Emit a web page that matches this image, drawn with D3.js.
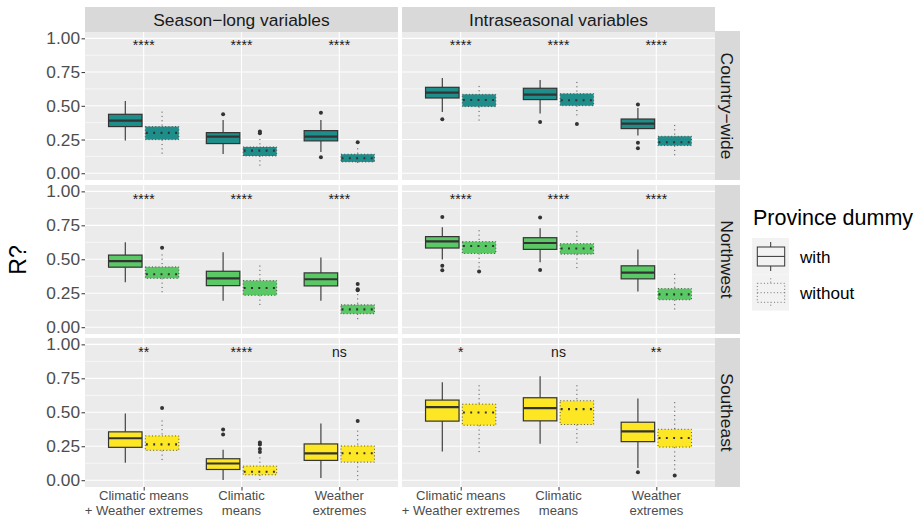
<!DOCTYPE html>
<html><head><meta charset="utf-8">
<script src="https://cdn.jsdelivr.net/npm/d3@7"></script>
<style>html,body{margin:0;background:#fff}svg{display:block}text{font-family:"Liberation Sans",Arial,sans-serif}</style>
</head><body><svg id="c" width="919" height="519"></svg>
<script>
const regions = ["Country\u2212wide","Northwest","Southeast"];
const regionColors = ["#1F8E8A","#5AC864","#FDE725"];
const variableSets = ["Season\u2212long variables","Intraseasonal variables"];
const categories = [["Climatic means","+ Weather extremes"],["Climatic","means"],["Weather","extremes"]];
const groups = ["with","without"];
const yTicks = [0,0.25,0.5,0.75,1];
const yMinor = [0.125,0.375,0.625,0.875];
// order of every list: region > variable set > category > with/without
const whiskerHigh = [
 .536,.457,.395,.254,.395,.185, .706,.647,.691,.677,.484,.358,
 .625,.536,.551,.454,.514,.244, .736,.714,.728,.706,.573,.393,
 .491,.44,.225,.168,.417,.365, .721,.699,.765,.699,.602,.575];
const q3 = [
 .437,.346,.301,.195,.316,.141, .637,.585,.63,.59,.402,.274,
 .531,.444,.412,.343,.40,.165, .667,.63,.659,.615,.452,.284,
 .356,.326,.158,.104,.267,.252, .59,.56,.607,.585,.427,.375];
const median = [
 .39,.299,.272,.168,.272,.111, .598,.543,.583,.541,.368,.23,
 .486,.39,.36,.289,.353,.131, .632,.598,.62,.58,.402,.242,
 .309,.264,.123,.062,.198,.198, .538,.499,.531,.523,.36,.311];
const q1 = [
 .346,.249,.22,.128,.24,.084, .558,.494,.546,.501,.331,.205,
 .442,.36,.306,.235,.304,.099, .583,.543,.573,.538,.356,.202,
 .242,.22,.079,.04,.146,.133, .435,.405,.437,.41,.284,.244];
const whiskerLow = [
 .242,.136,.143,.044,.158,.054, .454,.383,.442,.42,.279,.116,
 .331,.244,.195,.146,.195,.04, .499,.43,.479,.425,.262,.114,
 .128,.131,.002,.002,.017,0, .212,.188,.269,.264,.089,.074];
const outliers = [
 [],[],[.437],[.309,.296],[.449,.119],[.23], [.40],[],[.38],[.365],[.509,.227,.185],[],
 [],[.585],[],[],[],[.319,.28,.272], [.812,.452,.42],[.41],[.807,.422],[],[],[],
 [],[.531],[.373,.336],[.277,.262,.23,.207],[],[.435], [],[],[],[],[.059],[.035]];
const significance = [
 "****","****","****","****","****","****",
 "****","****","****","****","****","****",
 "**","****","ns","*","ns","**"];
const signifY = 0.91;

const svg = d3.select("#c");
const panelX = [[85,398],[402,715]];
const panelY = [[32,180],[185,334],[338,487]];
const boxW = 33.5, dodge = 18.4;
const gridC="#fff", tickTextC="#4D4D4D", tickC="#333333", dark="#333333", stripC="#D9D9D9";

const dodgeX = d3.scalePoint().domain(groups).range([-dodge,dodge]);

function drawBox(g, cx, y, i, fill, gi){
  const dotted = gi===1;
  const line = (x1,x2,y1,y2)=>g.append("line").attr("x1",x1).attr("x2",x2).attr("y1",y1).attr("y2",y2);
  const whiskerStyle = s=>dotted? s.attr("stroke","#555").attr("stroke-width",1).attr("stroke-dasharray","1.1 3.2")
                                 : s.attr("stroke",dark).attr("stroke-width",1.1);
  whiskerStyle(line(cx,cx,y(whiskerHigh[i]),y(q3[i])));
  whiskerStyle(line(cx,cx,y(q1[i]),y(whiskerLow[i])));
  const r = g.append("rect").attr("x",cx-boxW/2).attr("width",boxW)
     .attr("y",y(q3[i])).attr("height",y(q1[i])-y(q3[i])).attr("fill",fill);
  if(dotted) r.attr("stroke","#444").attr("stroke-width",.9).attr("stroke-dasharray","1 2.3");
  else r.attr("stroke",dark).attr("stroke-width",1.2);
  const m = line(cx-boxW/2,cx+boxW/2,y(median[i]),y(median[i])).attr("stroke",dark);
  if(dotted) m.attr("stroke-width",2.1).attr("stroke-dasharray","1.9 5.4").attr("stroke-dashoffset",-.6);
  else m.attr("stroke-width",2.2);
  outliers[i].forEach(v=>g.append("circle").attr("cx",cx).attr("cy",y(v)).attr("r",2).attr("fill",dark));
}

regions.forEach((region,ri)=>{
  const [top,bottom] = panelY[ri];
  const y = d3.scaleLinear().domain([-0.05,1.047]).range([bottom,top]);
  variableSets.forEach((vs,vi)=>{
    const [left,right] = panelX[vi];
    const x = d3.scalePoint().domain(d3.range(categories.length)).range([left,right]).padding(0.6);
    const g = svg.append("g");
    g.append("rect").attr("x",left).attr("y",top).attr("width",right-left).attr("height",bottom-top).attr("fill","#EBEBEB");
    yMinor.forEach(v=>g.append("line").attr("x1",left).attr("x2",right).attr("y1",y(v)).attr("y2",y(v)).attr("stroke",gridC).attr("stroke-width",.6));
    yTicks.forEach(v=>g.append("line").attr("x1",left).attr("x2",right).attr("y1",y(v)).attr("y2",y(v)).attr("stroke",gridC).attr("stroke-width",1.1));
    x.domain().forEach(c=>g.append("line").attr("x1",x(c)).attr("x2",x(c)).attr("y1",top).attr("y2",bottom).attr("stroke",gridC).attr("stroke-width",1.1));

    categories.forEach((cat,ci)=>{
      groups.forEach((gr,gi)=>{
        const i = ri*12 + vi*6 + ci*2 + gi;
        drawBox(g, x(ci)+dodgeX(gr), y, i, regionColors[ri], gi);
      });
      g.append("text").attr("x",x(ci)).attr("y",y(signifY)).attr("text-anchor","middle")
        .attr("font-size",14).attr("fill","#1a1a1a").text(significance[ri*6+vi*3+ci]);
    });

    if(vi===0){
      const ax = svg.append("g").attr("transform",`translate(${left},0)`)
        .call(d3.axisLeft(y).tickValues(yTicks).tickFormat(d3.format(".2f")).tickSize(3.5).tickPadding(1.5));
      ax.select(".domain").remove();
      ax.selectAll(".tick line").attr("stroke",tickC).attr("stroke-width",1);
      ax.selectAll(".tick text").attr("font-size",17.3).attr("fill",tickTextC).attr("font-family","Liberation Sans");
    }
    if(ri===regions.length-1){
      const ax = svg.append("g").attr("transform",`translate(0,${bottom})`)
        .call(d3.axisBottom(x).tickFormat(()=>"").tickSize(3.5));
      ax.select(".domain").remove();
      ax.selectAll(".tick line").attr("stroke",tickC).attr("stroke-width",1);
      ax.selectAll(".tick text").remove();
      categories.forEach((cat,ci)=>cat.forEach((ln,li)=>svg.append("text")
        .attr("x",x(ci)).attr("y",500+li*15).attr("text-anchor","middle")
        .attr("font-size",13.1).attr("fill",tickTextC).text(ln)));
    }
    if(ri===0){
      svg.append("rect").attr("x",left).attr("y",7).attr("width",right-left).attr("height",25).attr("fill",stripC);
      svg.append("text").attr("x",(left+right)/2).attr("y",26).attr("text-anchor","middle")
        .attr("font-size",17.4).attr("fill","#1A1A1A").text(vs);
    }
  });
  // right-hand strip
  svg.append("rect").attr("x",715).attr("y",ri===0?31:top).attr("width",25).attr("height",bottom-(ri===0?31:top)).attr("fill",stripC);
  svg.append("text").attr("transform",`translate(721,${(top+bottom)/2}) rotate(90)`).attr("text-anchor","middle")
    .attr("font-size",17.4).attr("fill","#1A1A1A").text(region);
});

// y title
svg.append("text").attr("transform","translate(25.5,260) rotate(-90)").attr("text-anchor","middle")
  .attr("font-size",23).attr("fill","#000").text("R?");

// legend
svg.append("text").attr("x",753).attr("y",225).attr("font-size",21.5).attr("fill","#000").text("Province dummy");
groups.forEach((gr,gi)=>{
  const top = 238+gi*36.3, dotted = gi===1, st = dotted? "#555":"#333", cx = 770.7;
  const k = svg.append("g");
  k.append("rect").attr("x",752).attr("y",top).attr("width",37).attr("height",36.3).attr("fill","#F2F2F2");
  const sty = s=>{s.attr("stroke",st).attr("stroke-width",dotted?.8:1); if(dotted) s.attr("stroke-dasharray","1 2.3"); return s;};
  sty(k.append("line").attr("x1",cx).attr("x2",cx).attr("y1",top+4).attr("y2",top+33));
  sty(k.append("rect").attr("x",757.3).attr("width",27.4).attr("y",top+9).attr("height",19).attr("fill","#F2F2F2"));
  sty(k.append("line").attr("x1",757.3).attr("x2",784.7).attr("y1",top+18.4).attr("y2",top+18.4));
  svg.append("text").attr("x",800).attr("y",top+24.5).attr("font-size",17.1).attr("fill","#000").text(gr);
});
</script></body></html>
